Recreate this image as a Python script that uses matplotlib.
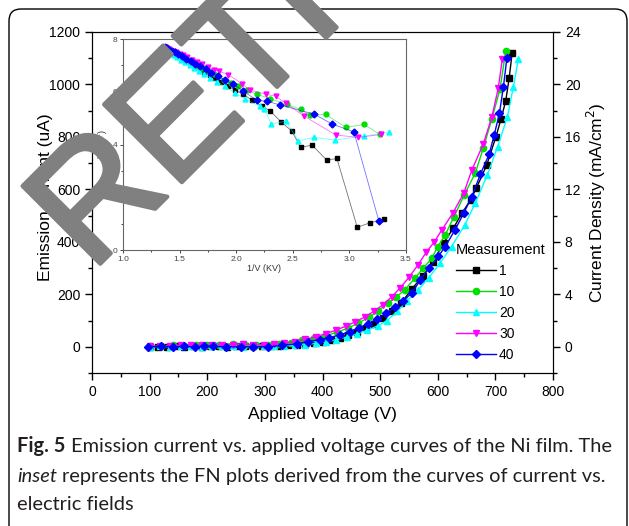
import matplotlib
matplotlib.use("Agg")
import matplotlib.pyplot as plt
import matplotlib.patheffects as pe
from matplotlib.patches import FancyBboxPatch
from matplotlib.transforms import IdentityTransform
from matplotlib.ticker import MultipleLocator

plt.rcParams['font.family'] = ['Liberation Sans', 'DejaVu Sans']

# emission current (uA) vs applied voltage (V), one pair per measurement
v_1 = [100, 115, 130, 145, 160, 175, 190, 205, 220, 235, 250, 265, 280, 295, 310,
       325, 340, 355, 370, 385, 400, 415, 430, 445, 460, 475, 490, 505, 520, 537,
       555, 574, 592, 610, 627, 642, 657, 667, 685, 701, 710, 718, 724, 729]
i_1 = [0, 0, 0, 1, 0, 1, 0, 1, 1, 0, 1, 1, 2, 2, 3,
       4, 5, 7, 10, 14, 19, 25, 33, 43, 55, 70, 88, 110, 135, 168,
       220, 270, 325, 395, 452, 509, 560, 605, 693, 801, 870, 938, 1026, 1119]

v_10 = [100, 120, 140, 160, 180, 200, 220, 245, 265, 285, 305, 325, 345, 365, 385,
        405, 425, 445, 462, 480, 497, 513, 528, 543, 561, 575, 590, 600, 613, 628,
        646, 665, 679, 694, 708, 718]
i_10 = [2, 3, 5, 4, 6, 5, 7, 12, 8, 6, 8, 12, 16, 24, 32,
        42, 55, 72, 90, 112, 138, 165, 190, 217, 264, 300, 338, 382, 427, 495,
        579, 662, 757, 870, 982, 1128]

v_20 = [100, 118, 136, 154, 172, 190, 208, 226, 244, 262, 280, 298, 316, 334, 352,
        370, 388, 406, 424, 442, 460, 478, 496, 512, 530, 546, 566, 584, 604, 624,
        647, 665, 686, 704, 721, 731, 740]
i_20 = [0, 1, 0, 2, 1, 0, 3, 1, 2, 0, 2, 1, 3, 4, 5,
        8, 13, 19, 27, 37, 49, 63, 80, 100, 135, 173, 217, 262, 319, 382,
        465, 547, 655, 763, 877, 989, 1097]

v_30 = [100, 118, 136, 154, 172, 190, 208, 226, 244, 262, 280, 298, 316, 334, 352,
        370, 388, 406, 423, 440, 457, 473, 489, 505, 520, 535, 550, 565, 580, 594,
        607, 626, 645, 659, 679, 694, 705, 712]
i_30 = [2, 3, 4, 6, 8, 7, 6, 7, 8, 9, 8, 7, 9, 13, 20,
        28, 38, 50, 63, 78, 95, 113, 135, 160, 190, 225, 265, 310, 360, 400,
        445, 509, 585, 673, 773, 877, 986, 1096]

v_40 = [98, 120, 140, 160, 178, 195, 210, 232, 258, 280, 306, 330, 355, 375, 395,
        412, 430, 447, 463, 479, 495, 510, 525, 540, 555, 570, 585, 601, 613, 630,
        645, 659, 674, 689, 698, 707, 714, 720]
i_40 = [0, 2, 0, 1, 0, 2, 1, 0, 0, 0, 0, 5, 11, 20, 27,
        35, 45, 58, 72, 88, 106, 127, 150, 175, 205, 255, 300, 345, 382, 446,
        509, 572, 658, 733, 808, 890, 992, 1102]

# FN plot (inset)
u_1 = [1.37, 1.39, 1.41, 1.43, 1.46, 1.49, 1.52, 1.56, 1.60, 1.64, 1.68, 1.72, 1.77, 1.81, 1.87,
       1.93, 1.99, 2.06, 2.14, 2.23, 2.30, 2.40, 2.49, 2.57, 2.67, 2.80, 2.89, 3.07, 3.18, 3.31]
f_1 = [7.66, 7.61, 7.56, 7.51, 7.43, 7.35, 7.27, 7.17, 7.07, 6.96, 6.86, 6.76, 6.63, 6.54, 6.37,
       6.22, 6.06, 5.91, 5.68, 5.45, 5.28, 4.84, 4.52, 3.89, 3.98, 3.41, 3.47, 0.86, 1.03, 1.17]

u_10 = [1.38, 1.40, 1.42, 1.45, 1.48, 1.51, 1.54, 1.58, 1.62, 1.66, 1.70, 1.75, 1.80, 1.89, 1.95,
        2.02, 2.10, 2.18, 2.30, 2.45, 2.57, 2.65, 2.79, 2.97, 3.13, 3.27]
f_10 = [7.66, 7.61, 7.56, 7.49, 7.42, 7.35, 7.27, 7.18, 7.08, 6.99, 6.90, 6.78, 6.66, 6.44, 6.33,
        6.21, 6.05, 5.91, 5.74, 5.52, 5.33, 5.11, 5.14, 4.65, 4.76, 4.38]

u_20 = [1.36, 1.38, 1.40, 1.42, 1.45, 1.48, 1.51, 1.55, 1.59, 1.63, 1.67, 1.72, 1.77, 1.83, 1.90,
        1.99, 2.08, 2.21, 2.25, 2.31, 2.44, 2.55, 2.69, 2.87, 3.13, 3.35]
f_20 = [7.62, 7.57, 7.51, 7.46, 7.38, 7.30, 7.22, 7.12, 7.01, 6.91, 6.80, 6.67, 6.54, 6.38, 6.20,
        5.96, 5.72, 5.45, 5.33, 4.77, 4.89, 4.14, 4.27, 4.17, 4.32, 4.46]

u_30 = [1.37, 1.39, 1.41, 1.44, 1.47, 1.50, 1.53, 1.57, 1.61, 1.65, 1.70, 1.75, 1.80, 1.85, 1.93,
        2.05, 2.12, 2.26, 2.35, 2.44, 2.60, 2.88, 3.08, 3.28]
f_30 = [7.70, 7.66, 7.62, 7.56, 7.50, 7.44, 7.38, 7.30, 7.22, 7.14, 7.04, 6.94, 6.84, 6.78, 6.65,
        6.31, 6.06, 5.91, 5.83, 5.56, 5.08, 4.36, 4.27, 4.38]

u_40 = [1.37, 1.39, 1.41, 1.43, 1.46, 1.49, 1.52, 1.56, 1.60, 1.64, 1.68, 1.73, 1.78, 1.84, 1.90,
        1.97, 2.06, 2.18, 2.27, 2.39, 2.69, 2.85, 3.04, 3.26]
f_40 = [7.70, 7.65, 7.60, 7.56, 7.49, 7.42, 7.34, 7.25, 7.15, 7.06, 6.96, 6.85, 6.73, 6.59, 6.44,
        6.29, 6.04, 5.68, 5.64, 5.50, 5.15, 4.77, 4.48, 1.11]

labels = ['1', '10', '20', '30', '40']
colors = ['black', '#00e000', '#00ffff', '#ff00ff', '#0000ff']
markers = ['s', 'o', '^', 'v', 'D']
main_v = [v_1, v_10, v_20, v_30, v_40]
main_i = [i_1, i_10, i_20, i_30, i_40]
fn_u = [u_1, u_10, u_20, u_30, u_40]
fn_f = [f_1, f_10, f_20, f_30, f_40]

fig = plt.figure(figsize=(6.29, 5.26), dpi=100)

ax = fig.add_axes([0.1463, 0.2909, 0.7329, 0.6483])
for v, i, c, m, lab in zip(main_v, main_i, colors, markers, labels):
    ax.plot(v, i, color=c, marker=m, ms=4.5, lw=1.0, mec=c, label=lab)

ax.set_xlim(0, 800)
ax.set_ylim(-100, 1200)
ax.xaxis.set_major_locator(MultipleLocator(100))
ax.xaxis.set_minor_locator(MultipleLocator(50))
ax.yaxis.set_major_locator(MultipleLocator(200))
ax.yaxis.set_minor_locator(MultipleLocator(100))
ax.tick_params(which='both', direction='out', top=False, right=False, labelsize=10, width=1)
ax.tick_params(which='major', length=5)
ax.tick_params(which='minor', length=3)
ax.set_xlabel('Applied Voltage (V)', fontsize=12.5, labelpad=6)
ax.set_ylabel('Emission current (uA)', fontsize=12.5)
ax.yaxis.set_label_coords(-0.085, 0.516)

ax2 = ax.twinx()
ax2.set_ylim(-2, 24)
ax2.yaxis.set_major_locator(MultipleLocator(4))
ax2.yaxis.set_minor_locator(MultipleLocator(2))
ax2.tick_params(which='both', direction='out', labelsize=10, width=1)
ax2.tick_params(which='major', length=5)
ax2.tick_params(which='minor', length=3)
ax2.set_ylabel('Current Density (mA/cm$^2$)', fontsize=12.5, labelpad=3)

leg = ax.legend(title='Measurement', loc='upper left',
                bbox_to_anchor=(456 / 629, 1 - 243 / 526), bbox_transform=fig.transFigure,
                frameon=False, fontsize=10, title_fontsize=10.5, numpoints=1,
                handlelength=2.9, handletextpad=0.2, labelspacing=0.5,
                borderpad=0, borderaxespad=0)
leg._legend_box.align = 'left'

# inset: FN plots
ins = fig.add_axes([0.1955, 0.5247, 0.4499, 0.4011])
for u, f, c, m in zip(fn_u, fn_f, colors, markers):
    ins.plot(u, f, color=c, lw=0.6, alpha=0.55)
    ins.plot(u, f, color=c, marker=m, ms=3.5, lw=0, mec=c)
ins.set_xlim(1.0, 3.5)
ins.set_ylim(0, 8)
ins.xaxis.set_major_locator(MultipleLocator(0.5))
ins.xaxis.set_minor_locator(MultipleLocator(0.25))
ins.yaxis.set_major_locator(MultipleLocator(2))
ins.yaxis.set_minor_locator(MultipleLocator(1))
ins.tick_params(which='both', direction='out', labelsize=6, colors='#444444', width=0.7, pad=1.5)
ins.tick_params(which='major', length=2.5)
ins.tick_params(which='minor', length=1.5)
for s in ins.spines.values():
    s.set_color('#666666')
    s.set_linewidth(0.8)
ins.set_xlabel('1/V (KV)', fontsize=6.5, color='#333333', labelpad=1)
ins.set_ylabel('ln(I/V$^2$)', fontsize=6.5, color='#333333', labelpad=2)

# outer frame
frame = FancyBboxPatch((9, -30), 618, 547, boxstyle='round,pad=0,rounding_size=12',
                       fill=False, ec='black', lw=1.0, transform=IdentityTransform())
fig.add_artist(frame)

# caption
renderer = fig.canvas.get_renderer()
cap_fs = 14.4
cap_kw = dict(fontsize=cap_fs, family=['Lato', 'DejaVu Sans'], color='#231f20', va='baseline')


def caption_line(y, parts):
    x = 17 / 629
    for txt, opts in parts:
        t = fig.text(x, y, txt, **cap_kw, **opts)
        bb = t.get_window_extent(renderer)
        x = (bb.x1 + 0.26 * cap_fs * 100 / 72) / fig.bbox.width


caption_line(1 - 451.7 / 526, [('Fig. 5', dict(fontweight='bold')),
                               ('Emission current vs. applied voltage curves of the Ni film. The', {})])
caption_line(1 - 481.7 / 526, [('inset', dict(style='italic')),
                               ('represents the FN plots derived from the curves of current vs.', {})])
caption_line(1 - 510 / 526, [('electric fields', {})])

# retraction watermark
fig.text(91 / 629, 253 / 526, 'RETRACTED', fontsize=115, color='#808080', rotation=45,
         rotation_mode='anchor', ha='left', va='baseline', zorder=100,
         path_effects=[pe.withStroke(linewidth=3, foreground='#808080')])

fig.savefig('out.png', dpi=100)
